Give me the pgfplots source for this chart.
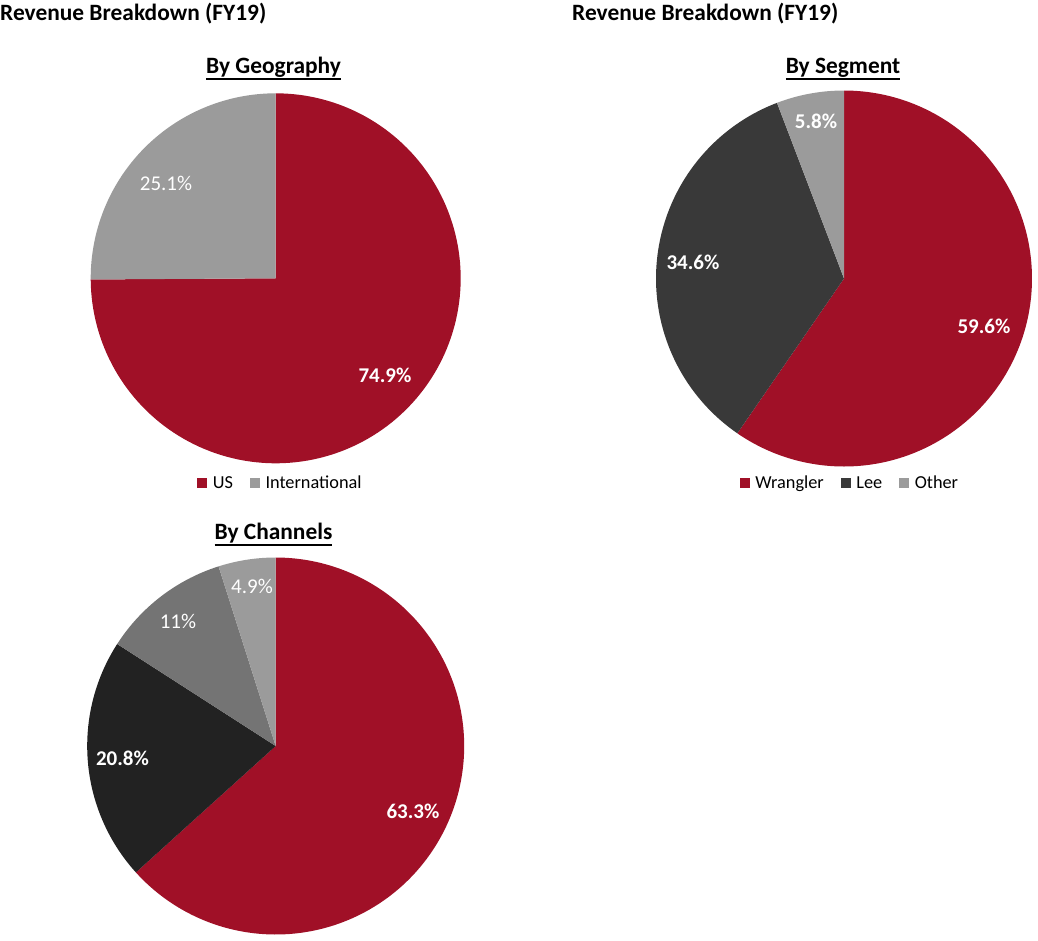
\documentclass[border=0pt]{standalone}
\usepackage{fontspec}
\setmainfont{Carlito}
\usepackage{pgfplots}
\pgfplotsset{compat=1.18}
\definecolor{cRed}{RGB}{160,16,39}
\definecolor{cGrey}{RGB}{155,155,155}
\definecolor{cDark}{RGB}{57,57,57}
\definecolor{cBlack}{RGB}{34,34,34}
\definecolor{cMid}{RGB}{116,116,116}
\newcommand\ul[1]{\setbox0\hbox{#1}\rlap{\rule[-7pt]{\wd0}{1.8pt}}\box0}
% slice from cumulative percent #1 to #2, clockwise from 12 o'clock, radius #3, colour #4
\newcommand\slice[4]{%
  \addplot[fill=#4, draw=none, domain=90-3.6*(#2):90-3.6*(#1), samples=150]
    ({#3*cos(x)},{#3*sin(x)}) -- (axis cs:0,0) -- cycle;}
\pgfplotsset{pieaxis/.style={hide axis, scale only axis, width=380pt, height=380pt,
  xmin=-190, xmax=190, ymin=-190, ymax=190, clip=false, anchor=center,
  legend columns=-1,
  legend style={draw=none, fill=none, font=\fontsize{18.3}{20}\selectfont,
    inner sep=0pt, anchor=center,
    /tikz/every odd column/.append style={column sep=3.5pt},
    /tikz/every even column/.append style={column sep=15pt}},
  legend image code/.code={\path[#1] (0pt,-5pt) rectangle (10pt,5pt);}}}
\tikzset{lab/.style={text=white, inner sep=0pt, font=\fontsize{21}{24}\selectfont},
  blab/.style={lab, font=\bfseries\fontsize{21}{24}\selectfont}}
\begin{document}
\begin{tikzpicture}
\path[use as bounding box] (0pt,0pt) rectangle (1038pt,-940pt);
% titles
\node[anchor=base west, inner sep=0pt, font=\bfseries\fontsize{23.4}{26}\selectfont] at (0pt,-20pt) {Revenue Breakdown (FY19)};
\node[anchor=base west, inner sep=0pt, font=\bfseries\fontsize{23.4}{26}\selectfont] at (572pt,-20pt) {Revenue Breakdown (FY19)};
\node[anchor=base, inner sep=0pt, font=\bfseries\fontsize{23.4}{26}\selectfont] at (273.5pt,-73pt) {\ul{By Geography}};
\node[anchor=base, inner sep=0pt, font=\bfseries\fontsize{23.4}{26}\selectfont] at (843pt,-73pt) {\ul{By Segment}};
\node[anchor=base, inner sep=0pt, font=\bfseries\fontsize{23.4}{26}\selectfont] at (273.5pt,-539pt) {\ul{By Channels}};
% By Geography
\begin{axis}[pieaxis, at={(275.7pt,-278.3pt)},
  legend style={at={(0.5126,-0.0387)}}]
\slice{0}{74.9}{185}{cRed}
\addlegendentry{US}
\slice{74.9}{100}{185}{cGrey}
\addlegendentry{International}
\end{axis}
% By Segment
\begin{axis}[pieaxis, at={(844pt,-278.5pt)},
  legend style={at={(0.5158,-0.038)}}]
\slice{0}{59.6}{188}{cRed}
\addlegendentry{Wrangler}
\slice{59.6}{94.2}{188}{cDark}
\addlegendentry{Lee}
\slice{94.2}{100}{188}{cGrey}
\addlegendentry{Other}
\end{axis}
% By Channels
\begin{axis}[pieaxis, at={(275.7pt,-746pt)}]
\slice{0}{63.3}{188.5}{cRed}
\slice{63.3}{84.1}{188.5}{cBlack}
\slice{84.1}{95.1}{188.5}{cMid}
\slice{95.1}{100}{188.5}{cGrey}
\end{axis}
% data labels
\node[blab] at (385pt,-375pt) {74.9\%};
\node[lab] at (166pt,-183pt) {25.1\%};
\node[blab] at (984pt,-326pt) {59.6\%};
\node[blab] at (693pt,-262.7pt) {34.6\%};
\node[blab] at (816pt,-121pt) {5.8\%};
\node[blab] at (413pt,-811.7pt) {63.3\%};
\node[blab] at (122.5pt,-758.7pt) {20.8\%};
\node[lab] at (178pt,-621.7pt) {11\%};
\node[lab] at (252pt,-586.7pt) {4.9\%};
\end{tikzpicture}
\end{document}
